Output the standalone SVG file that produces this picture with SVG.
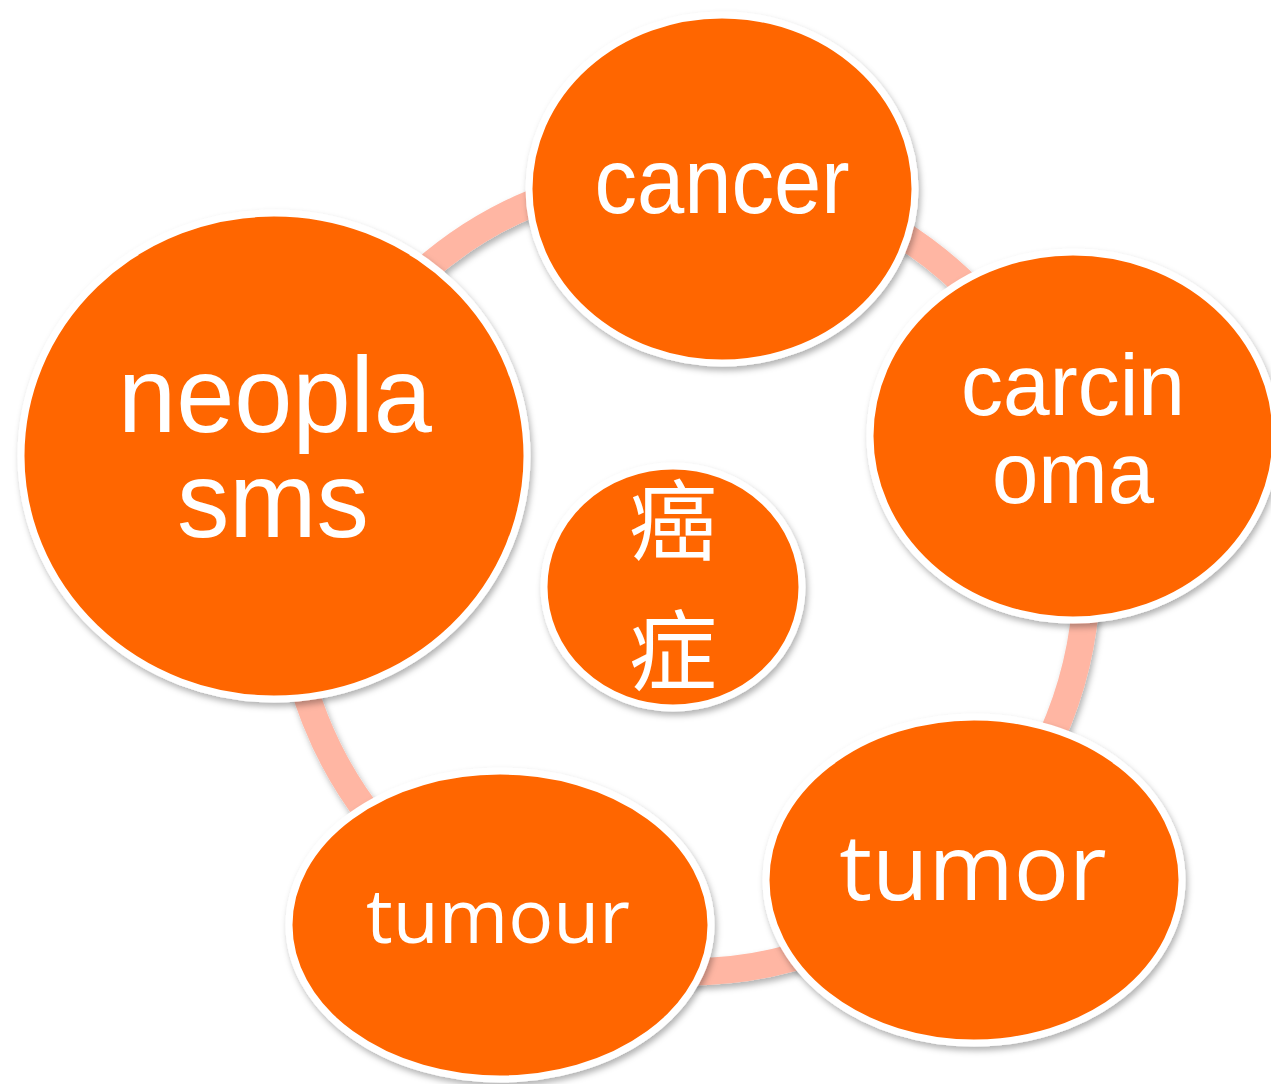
<svg xmlns="http://www.w3.org/2000/svg" width="1271" height="1084" viewBox="0 0 1271 1084">
<defs>
<filter id="sh" x="-10%" y="-10%" width="120%" height="120%">
<feDropShadow dx="2" dy="4" stdDeviation="3" flood-color="#000" flood-opacity="0.3"/>
</filter>
<style>
.node{fill:#FF6600;stroke:#FFFFFF;stroke-width:7;filter:url(#sh)}
.ring{fill:none;stroke:#FFB6A3;stroke-width:27;filter:url(#sh)}
.a{font-family:"Liberation Sans",Arial,sans-serif;fill:#FFFFFF;text-anchor:middle}
.o{font-family:"Open Sans","Noto Sans",sans-serif;fill:#FFFFFF;text-anchor:middle}
.c{font-family:"Noto Sans CJK SC","Noto Sans CJK JP",sans-serif;fill:#FFFFFF;text-anchor:middle}
</style>
</defs>
<rect width="1271" height="1084" fill="#FFFFFF"/>
<g id="connectors">
<circle class="ring" cx="687" cy="572" r="400"/>
</g>
<g id="node-cancer">
<ellipse class="node" cx="722" cy="189" rx="193" ry="174"/>
<text class="a" x="722" y="213" font-size="92" textLength="255" lengthAdjust="spacingAndGlyphs">cancer</text>
</g>
<g id="node-carcinoma">
<ellipse class="node" cx="1073" cy="436" rx="203" ry="184"/>
<text class="a" x="1073" y="415" font-size="87" textLength="224" lengthAdjust="spacingAndGlyphs">carcin</text>
<text class="a" x="1073" y="503" font-size="87" textLength="162" lengthAdjust="spacingAndGlyphs">oma</text>
</g>
<g id="node-tumor">
<ellipse class="node" cx="974" cy="880" rx="208" ry="163"/>
<text class="o" x="973" y="900" font-size="92">tumor</text>
</g>
<g id="node-tumour">
<ellipse class="node" cx="500" cy="925" rx="211" ry="154"/>
<text class="o" x="498" y="943" font-size="75">tumour</text>
</g>
<g id="node-neoplasms">
<ellipse class="node" cx="274" cy="456" rx="253" ry="243"/>
<text class="a" x="275" y="432" font-size="108" textLength="314" lengthAdjust="spacingAndGlyphs">neopla</text>
<text class="a" x="273" y="537" font-size="108" textLength="192" lengthAdjust="spacingAndGlyphs">sms</text>
</g>
<g id="node-center">
<ellipse class="node" cx="673" cy="587" rx="129" ry="121"/>
<text class="c" x="673" y="553" font-size="88">癌</text>
<text class="c" x="673" y="683" font-size="88">症</text>
</g>
</svg>
